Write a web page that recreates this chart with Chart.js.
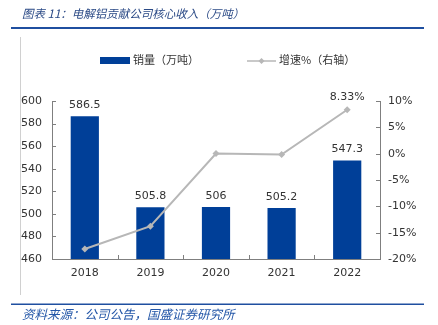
<!DOCTYPE html>
<html>
<head>
<meta charset="utf-8">
<script src="https://cdn.jsdelivr.net/npm/chart.js@4"></script>
<style>
  body { margin: 0; background: #fff; }
  #wrap { position: relative; width: 438px; height: 325px; }
</style>
</head>
<body>
<div id="wrap"><canvas id="myChart" width="438" height="325"></canvas></div>
<script>
// data
let years = ['2018', '2019', '2020', '2021', '2022'];
let sales = [586.5, 505.8, 506, 505.2, 547.3];
let growth = [-18.1, -13.76, 0.04, -0.16, 8.33];
let salesTicks = [460, 480, 500, 520, 540, 560, 580, 600];
let growthTicks = [-20, -15, -10, -5, 0, 5, 10];

let titleText = '图表 11：电解铝贡献公司核心收入（万吨）';
let sourceText = '资料来源：公司公告，国盛证券研究所';
let barName = '销量（万吨）';
let lineName = '增速%（右轴）';

const ctx = document.getElementById('myChart');
const blue = '#003f98';
const gray = '#b7b7b7';
const labelFont = '11px "DejaVu Sans"';
const cjk = '"Noto Sans CJK SC"';

// frame, title, legend, labels and the small inward ticks
let decor = {
  id: 'decor',
  afterDraw(chart) {
    let c = chart.ctx;
    let area = chart.chartArea;
    let y = chart.scales.y;
    let y1 = chart.scales.y1;
    let x = chart.scales.x;
    c.save();

    // title
    c.fillStyle = '#2b4a86';
    c.font = 'italic 11.5px ' + cjk;
    c.textBaseline = 'middle';
    c.textAlign = 'left';
    c.fillText(titleText, 22, 14);

    // header / footer rules
    c.fillStyle = '#1f4fa0';
    c.fillRect(11, 27, 413, 2);
    c.fillRect(11, 303.5, 413, 1.5);
    c.fillStyle = '#d0d0d0';
    c.fillRect(20, 37, 1, 258);

    // source
    c.fillStyle = '#2457a8';
    c.font = 'italic 12.5px ' + cjk;
    c.fillText(sourceText, 22, 314);

    // legend
    c.fillStyle = blue;
    c.fillRect(100, 57, 30, 7);
    c.fillStyle = '#333';
    c.font = '11px ' + cjk;
    c.fillText(barName, 133, 60);
    c.strokeStyle = gray;
    c.lineWidth = 1.5;
    c.beginPath();
    c.moveTo(247, 61);
    c.lineTo(276, 61);
    c.stroke();
    c.fillStyle = gray;
    c.beginPath();
    c.moveTo(261.5, 58);
    c.lineTo(264.5, 61);
    c.lineTo(261.5, 64);
    c.lineTo(258.5, 61);
    c.closePath();
    c.fill();
    c.fillStyle = '#333';
    c.fillText(lineName, 279, 60);

    // inward ticks
    c.strokeStyle = '#7f7f7f';
    c.lineWidth = 1;
    c.beginPath();
    salesTicks.forEach(v => {
      let p = Math.round(y.getPixelForValue(v)) + 0.5;
      c.moveTo(area.left, p);
      c.lineTo(area.left + 4, p);
    });
    growthTicks.forEach(v => {
      let p = Math.round(y1.getPixelForValue(v)) + 0.5;
      c.moveTo(area.right, p);
      c.lineTo(area.right - 4, p);
    });
    for (let i = 1; i < years.length; i++) {
      let p = Math.round((x.getPixelForValue(i - 1) + x.getPixelForValue(i)) / 2) + 0.5;
      c.moveTo(p, area.bottom);
      c.lineTo(p, area.bottom - 4);
    }
    c.stroke();

    // value labels
    c.fillStyle = '#333';
    c.font = labelFont;
    c.textAlign = 'center';
    let bars = chart.getDatasetMeta(0).data;
    bars.forEach((b, i) => {
      c.fillText(String(sales[i]), b.x, b.y - 11);
    });
    let pts = chart.getDatasetMeta(1).data;
    let last = pts[pts.length - 1];
    c.fillText(growth[growth.length - 1].toFixed(2) + '%', last.x, last.y - 13);

    c.restore();
  }
};

new Chart(ctx, {
  type: 'bar',
  data: {
    labels: years,
    datasets: [
      {
        type: 'bar',
        label: barName,
        data: sales,
        backgroundColor: blue,
        barPercentage: 0.43,
        categoryPercentage: 1,
        yAxisID: 'y',
        order: 2
      },
      {
        type: 'line',
        label: lineName,
        data: growth,
        borderColor: gray,
        borderWidth: 2,
        backgroundColor: gray,
        pointStyle: 'rectRot',
        pointRadius: 3.5,
        pointBorderWidth: 0,
        yAxisID: 'y1',
        order: 1
      }
    ]
  },
  options: {
    responsive: false,
    animation: false,
    layout: { padding: { left: 0, right: 0, top: 101, bottom: 41 } },
    plugins: {
      legend: { display: false },
      tooltip: { enabled: false }
    },
    scales: {
      x: {
        grid: { display: false },
        border: { color: '#7f7f7f' },
        ticks: { color: '#333', font: { family: 'DejaVu Sans', size: 11 }, padding: 0 },
        afterFit: s => { s.height = 25; }
      },
      y: {
        position: 'left',
        min: 460,
        max: 600,
        grid: { display: false },
        border: { color: '#7f7f7f' },
        ticks: { stepSize: 20, color: '#333', font: { family: 'DejaVu Sans', size: 11 }, padding: 2 },
        afterFit: s => { s.width = 52; }
      },
      y1: {
        position: 'right',
        min: -20,
        max: 10,
        grid: { display: false },
        border: { color: '#7f7f7f' },
        ticks: {
          stepSize: 5,
          color: '#333',
          font: { family: 'DejaVu Sans', size: 11 },
          padding: 0,
          callback: v => v + '%'
        },
        afterFit: s => { s.width = 58; }
      }
    }
  },
  plugins: [decor]
});
</script>
</body>
</html>
